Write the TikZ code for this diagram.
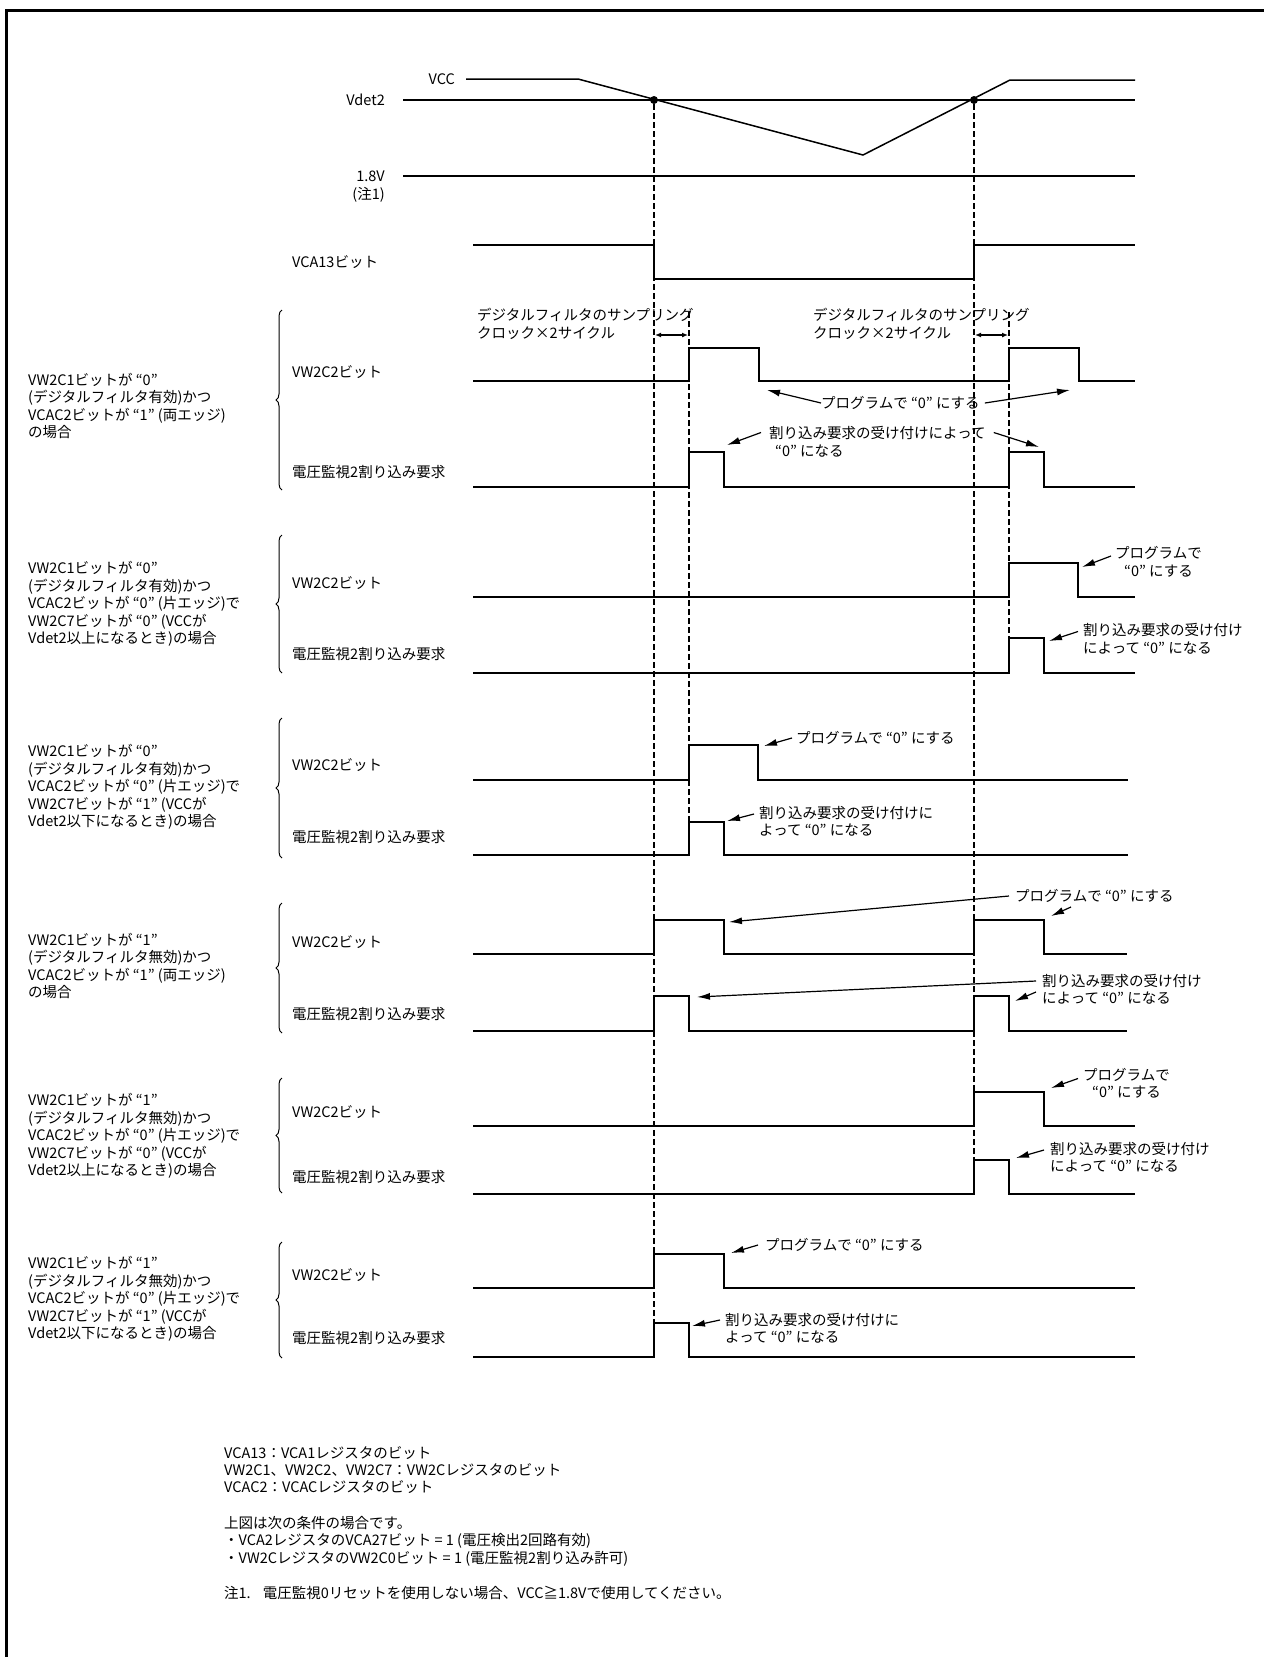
\documentclass[tikz,border=0pt]{standalone}
\usepackage{fontspec}
\setmainfont{Noto Sans CJK JP}
\usetikzlibrary{arrows.meta, decorations.pathreplacing}

\tikzset{
  txt/.style={inner sep=0pt, align=left, font=\fontsize{14.5}{17.5}\selectfont},
  sig/.style={line width=1.5pt},
  guide/.style={line width=2.2pt, dash pattern=on 6pt off 3pt},
  pointer/.style={-{Latex[length=13pt,width=7pt]}, line width=1.2pt},
  span/.style={{Latex[length=6pt,width=5pt]}-{Latex[length=6pt,width=5pt]}, line width=1.2pt},
  grp/.style={decorate, decoration={brace, amplitude=6pt}, line width=1pt},
  xdot/.style={circle, fill, inner sep=0pt, minimum size=8pt}
}

\begin{document}
\begin{tikzpicture}[x=1pt, y=-1pt]
\useasboundingbox (0,0) rectangle (1264,1657);
% Frame (top and left edge)
\draw[line width=3pt] (6,1657) -- (6,10) -- (1264,10);

% Supply voltage and thresholds
\node[txt, anchor=east] (vcc) at (455,79) {VCC};
\node[txt, anchor=east] (vdet) at (385,100) {Vdet2};
\node[txt, anchor=east] (v18) at (385,176) {1.8V};
\node[txt, anchor=east] (n1) at (385,195) {(注1)};
\node[txt, anchor=west] (vca) at (292,262) {VCA13ビット};
\draw[sig] (466,79) -- (578,79) -- (863,155) -- (1010,80) -- (1135,80);
\draw[sig] (403,100) -- (1135,100);
\draw[sig] (403,176) -- (1135,176);
\draw[sig] (473,245) -- (654,245) -- (654,279) -- (974,279) -- (974,245) -- (1135,245);
\node[xdot] (cross1) at (654,100) {};
\node[xdot] (cross2) at (974,100) {};

% Guide lines down through the groups
\coordinate (cross1b) at (654,1323);
\coordinate (cross2b) at (974,1160);
\coordinate (samp1t) at (689,312);
\coordinate (samp1b) at (689,822);
\coordinate (samp2t) at (1009,312);
\coordinate (samp2b) at (1009,638);
\draw[guide] (cross1) -- (cross1b);
\draw[guide] (cross2) -- (cross2b);
\draw[guide] (samp1t) -- (samp1b);
\draw[guide] (samp2t) -- (samp2b);

% Sampling delay
\node[txt, anchor=west] (sa1) at (477,315) {デジタルフィルタのサンプリング};
\node[txt, anchor=west] (sb1) at (477,333) {クロック×2サイクル};
\node[txt, anchor=west] (sa2) at (813,315) {デジタルフィルタのサンプリング};
\node[txt, anchor=west] (sb2) at (813,333) {クロック×2サイクル};
\coordinate (w1a) at (655,335);
\coordinate (w1b) at (688,335);
\coordinate (w2a) at (975,335);
\coordinate (w2b) at (1008,335);
\draw[span] (w1a) -- (w1b);
\draw[span] (w2a) -- (w2b);

% Braces and row names of the six cases
\foreach \top/\bot in {310/490, 535/673, 718/858, 903/1033, 1078/1193, 1242/1358}
  \draw[grp] (282,\bot) -- (282,\top);
\foreach \yv/\yi [count=\n] in {372/472, 583/654, 765/837, 942/1014, 1112/1177, 1275/1338} {
  \node[txt, anchor=west] (bit\n) at (292,\yv) {VW2C2ビット};
  \node[txt, anchor=west] (req\n) at (292,\yi) {電圧監視2割り込み要求};
}

% Case descriptions
\node[txt, anchor=west] (case1) at (28,406) {VW2C1ビットが “0”\\(デジタルフィルタ有効)かつ\\VCAC2ビットが “1” (両エッジ)\\の場合};
\node[txt, anchor=west] (case2) at (28,604) {VW2C1ビットが “0”\\(デジタルフィルタ有効)かつ\\VCAC2ビットが “0” (片エッジ)で\\VW2C7ビットが “0” (VCCが\\Vdet2以上になるとき)の場合};
\node[txt, anchor=west] (case3) at (28,787) {VW2C1ビットが “0”\\(デジタルフィルタ有効)かつ\\VCAC2ビットが “0” (片エッジ)で\\VW2C7ビットが “1” (VCCが\\Vdet2以下になるとき)の場合};
\node[txt, anchor=west] (case4) at (28,966) {VW2C1ビットが “1”\\(デジタルフィルタ無効)かつ\\VCAC2ビットが “1” (両エッジ)\\の場合};
\node[txt, anchor=west] (case5) at (28,1136) {VW2C1ビットが “1”\\(デジタルフィルタ無効)かつ\\VCAC2ビットが “0” (片エッジ)で\\VW2C7ビットが “0” (VCCが\\Vdet2以上になるとき)の場合};
\node[txt, anchor=west] (case6) at (28,1299) {VW2C1ビットが “1”\\(デジタルフィルタ無効)かつ\\VCAC2ビットが “0” (片エッジ)で\\VW2C7ビットが “1” (VCCが\\Vdet2以下になるとき)の場合};

% Case 1: filter on, both edges
\draw[sig] (473,381) -- (689,381) -- (689,348) -- (759,348) -- (759,381) -- (1009,381) -- (1009,348) -- (1079,348) -- (1079,381) -- (1135,381);
\draw[sig] (473,487) -- (689,487) -- (689,452) -- (724,452) -- (724,487) -- (1009,487) -- (1009,452) -- (1044,452) -- (1044,487) -- (1135,487);
\node[txt, anchor=west] (pg1) at (821,403) {プログラムで “0” にする};
\node[txt, anchor=west] (ir1) at (769,441.5) {割り込み要求の受け付けによって\\\hspace{6pt}“0” になる};
\coordinate (t1a) at (767,390);
\coordinate (t1b) at (1070,390);
\coordinate (t1c) at (727,445);
\coordinate (t1d) at (1039,447);
\draw[pointer] (pg1.west) -- (t1a);
\draw[pointer] ([xshift=5pt]pg1.east) -- (t1b);
\draw[pointer] ([xshift=-8pt,yshift=9pt]ir1.west) -- (t1c);
\draw[pointer] ([xshift=8pt,yshift=9pt]ir1.east) -- (t1d);

% Case 2: filter on, one edge, rising
\draw[sig] (473,597) -- (1009,597) -- (1009,563) -- (1078,563) -- (1078,597) -- (1135,597);
\draw[sig] (473,673) -- (1009,673) -- (1009,638) -- (1044,638) -- (1044,673) -- (1135,673);
\node[txt, anchor=west, align=center] (pg2) at (1115,562) {プログラムで\\“0” にする};
\node[txt, anchor=west] (ir2) at (1083,638.5) {割り込み要求の受け付け\\によって “0” になる};
\coordinate (t2a) at (1082,567);
\coordinate (t2b) at (1049,641);
\draw[pointer] ([xshift=-4pt,yshift=6pt]pg2.west) -- (t2a);
\draw[pointer] ([xshift=-5pt,yshift=7pt]ir2.west) -- (t2b);

% Case 3: filter on, one edge, falling
\draw[sig] (473,780) -- (689,780) -- (689,745) -- (758,745) -- (758,780) -- (1128,780);
\draw[sig] (473,855) -- (689,855) -- (689,822) -- (724,822) -- (724,855) -- (1128,855);
\node[txt, anchor=west] (pg3) at (796,738) {プログラムで “0” にする};
\node[txt, anchor=west] (ir3) at (759,821) {割り込み要求の受け付けに\\よって “0” になる};
\coordinate (t3a) at (764,746);
\coordinate (t3b) at (727,821);
\draw[pointer] ([xshift=-4pt]pg3.west) -- (t3a);
\draw[pointer] ([xshift=-5pt,yshift=7pt]ir3.west) -- (t3b);

% Case 4: filter off, both edges
\draw[sig] (473,954) -- (654,954) -- (654,920) -- (724,920) -- (724,954) -- (974,954) -- (974,920) -- (1044,920) -- (1044,954) -- (1127,954);
\draw[sig] (473,1031) -- (654,1031) -- (654,996) -- (689,996) -- (689,1031) -- (974,1031) -- (974,996) -- (1009,996) -- (1009,1031) -- (1127,1031);
\node[txt, anchor=west] (pg4) at (1015,896) {プログラムで “0” にする};
\node[txt, anchor=west] (ir4) at (1042,989) {割り込み要求の受け付け\\によって “0” になる};
\coordinate (t4a) at (729,922);
\coordinate (t4b) at (1051,916);
\coordinate (t4c) at (697,997);
\coordinate (t4d) at (1015,1001);
\draw[pointer] ([xshift=-6pt]pg4.west) -- (t4a);
\draw[pointer] ([xshift=56pt,yshift=-11pt]pg4.west) -- (t4b);
\draw[pointer] ([xshift=-6pt,yshift=8pt]ir4.west) -- (t4c);
\draw[pointer] ([xshift=-6pt,yshift=-3pt]ir4.west) -- (t4d);

% Case 5: filter off, one edge, rising
\draw[sig] (473,1126) -- (974,1126) -- (974,1092) -- (1044,1092) -- (1044,1126) -- (1135,1126);
\draw[sig] (473,1194) -- (974,1194) -- (974,1160) -- (1009,1160) -- (1009,1194) -- (1135,1194);
\node[txt, anchor=west, align=center] (pg5) at (1083,1083.5) {プログラムで\\“0” にする};
\node[txt, anchor=west] (ir5) at (1050,1157) {割り込み要求の受け付け\\によって “0” になる};
\coordinate (t5a) at (1051,1088);
\coordinate (t5b) at (1016,1158);
\draw[pointer] ([xshift=-5pt,yshift=5pt]pg5.west) -- (t5a);
\draw[pointer] ([xshift=-6pt,yshift=7pt]ir5.west) -- (t5b);

% Case 6: filter off, one edge, falling
\draw[sig] (473,1288) -- (654,1288) -- (654,1254) -- (724,1254) -- (724,1288) -- (1135,1288);
\draw[sig] (473,1357) -- (654,1357) -- (654,1323) -- (689,1323) -- (689,1357) -- (1135,1357);
\node[txt, anchor=west] (pg6) at (765,1245) {プログラムで “0” にする};
\node[txt, anchor=west] (ir6) at (725,1328) {割り込み要求の受け付けに\\よって “0” になる};
\coordinate (t6a) at (731,1253);
\coordinate (t6b) at (692,1326);
\draw[pointer] ([xshift=-7pt]pg6.west) -- (t6a);
\draw[pointer] ([xshift=-5pt,yshift=8pt]ir6.west) -- (t6b);

% Notes below the chart
\foreach \yy/\line [count=\n] in {
  1453/{VCA13：VCA1レジスタのビット},
  1470/{VW2C1、VW2C2、VW2C7：VW2Cレジスタのビット},
  1487/{VCAC2：VCACレジスタのビット},
  1523/{上図は次の条件の場合です。},
  1541/{・VCA2レジスタのVCA27ビット = 1 (電圧検出2回路有効)},
  1559/{・VW2CレジスタのVW2C0ビット = 1 (電圧監視2割り込み許可)},
  1593/{注1.\hspace{12pt}電圧監視0リセットを使用しない場合、VCC≧1.8Vで使用してください。}} {
  \node[txt, anchor=west] (foot\n) at (224,\yy) {\line};
}
\end{tikzpicture}
\end{document}
